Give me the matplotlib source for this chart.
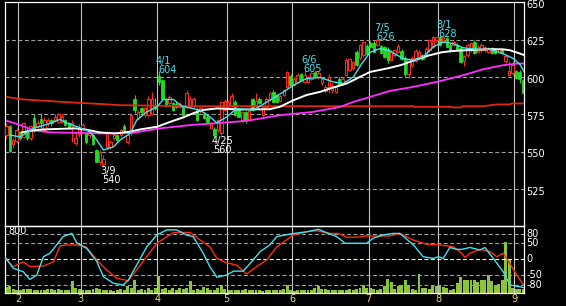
import matplotlib

matplotlib.use("Agg")

import matplotlib.pyplot as plt
import matplotlib.transforms as mtransforms
import numpy as np

plt.rcParams["font.family"] = "DejaVu Sans"

# ---- values (x = trading-day index, 0..149) ----
opens = [
    561, 567, 555, 557, 563, 560, 564, 559, 572.5, 567,
    572, 564.5, 569, 571, 571, 570, 570, 571, 569, 567,
    556, 562, 565.5, 562.5, 561, 561, 551, 543, 542, 553.5,
    553.5, 559, 561, 561, 567, 556.5, 562.5, 585.5, 572.5, 579,
    574.5, 574.5, 575.5, 581, 601, 598, 584.5, 582.5, 582.5, 582,
    580, 580, 580, 580, 580.5, 578, 577, 575.5, 573.5, 566,
    565.5, 564.5, 562.5, 578, 580, 581, 583.5, 578, 571, 576.5,
    572, 585, 581, 585.5, 574.5, 580, 585, 590, 588, 584,
    588, 593.5, 601, 595, 597, 602, 597, 597, 599, 603.5,
    600, 596, 590.5, 593.5, 591, 590, 599, 596, 601.5, 605,
    606, 617, 612.5, 614.5, 621, 623, 623, 621.5, 620.5, 620,
    619, 611.5, 614.5, 617, 617.5, 612.5, 602, 608, 611, 612.5,
    614.5, 614.5, 618, 620.3, 624.7, 627, 623.6, 626, 621.4, 621.5,
    621.4, 619.2, 610.5, 614.7, 618, 623.6, 617, 618, 618, 617,
    619.2, 618.5, 617, 618, 610.5, 601.4, 602.5, 603.7, 603.5, 598,
]
highs = [
    569, 568, 559, 566, 564, 570, 566, 568, 575, 571,
    576, 573, 572.5, 572, 575.5, 576, 576, 572, 570, 571,
    563, 568.5, 569.5, 563.5, 565, 562, 552, 551, 548, 564,
    558, 562.5, 562, 565.5, 568.5, 562.5, 576, 588, 578, 580,
    580, 587, 590, 586, 604, 599, 586, 588, 583.5, 583,
    583, 581, 591, 587, 586.5, 579, 580, 576.5, 574.5, 570,
    566.5, 572, 584, 585, 584.5, 589, 584.5, 579, 577.5, 577.5,
    578, 586, 589, 586.5, 581, 586.5, 590, 591, 588.5, 588,
    592, 604, 602, 600, 602.5, 603, 605, 601, 603.5, 604,
    604, 600, 595, 602, 596, 594, 600, 600, 613, 613,
    611, 618, 622, 624, 622, 624, 624, 626, 621.5, 621,
    620, 618, 619, 622, 618.5, 614, 613, 614, 618.5, 618,
    615.5, 620, 625.5, 627.5, 627, 628, 627.5, 627, 622.5, 624,
    622.5, 620, 615, 622.5, 623.5, 624.5, 621.5, 622.5, 621, 620,
    620, 619.5, 619.5, 619, 615, 610.4, 610.4, 605, 604.5, 599,
]
lows = [
    559, 550, 552.5, 556, 558, 559, 558, 558, 563, 565,
    566, 563, 567.5, 567.5, 570, 569, 569, 567, 565, 556.5,
    554.5, 560, 564, 555, 559, 554.5, 543, 541, 540, 552,
    552, 558, 557, 560, 563.5, 555.5, 561.5, 576, 571, 575,
    573.5, 573.5, 574.5, 578, 595, 585, 580, 581.5, 577, 579,
    579, 574, 579, 579, 579.5, 570.5, 576, 572, 569.5, 565,
    560, 563.5, 561.5, 577, 579, 580, 574, 573, 570, 569,
    571, 577.5, 580, 582, 573.5, 579, 584, 583, 583, 583,
    587, 592.5, 594, 594, 596, 597.5, 596, 596, 598, 600,
    599, 595, 589, 589, 589, 589, 594, 595, 600.5, 604,
    605, 607.5, 611.5, 613.5, 615, 619.5, 616.5, 620.5, 615.5, 613,
    609.5, 610.5, 613.5, 616, 611.5, 601, 599.5, 607, 610, 611.5,
    611.5, 613.5, 617, 619.5, 623.5, 621, 622.5, 620, 617, 620.5,
    617.5, 609.5, 607.5, 613.5, 617, 615.5, 616, 617, 617, 616,
    615.5, 615.5, 616, 615.5, 609.5, 600.5, 601.5, 598.5, 596, 589,
]
closes = [
    567, 550.5, 558, 564.5, 559, 569, 559, 567, 564.5, 569,
    569, 571, 571, 569, 573.5, 575, 574, 568, 565.7, 569.5,
    559, 566, 568, 556.5, 563.5, 555.5, 543.5, 550, 545, 563.5,
    556.5, 561, 558, 564.5, 564.5, 561, 574.5, 578, 576.5, 576.5,
    579, 585.5, 585, 579.5, 596.5, 585.5, 581, 586.5, 578, 580,
    582, 574.5, 589, 585.5, 585, 571, 579, 572.5, 570, 568.5,
    561, 571, 583.5, 584, 583.5, 587, 574.5, 573.5, 576.5, 571,
    577, 578, 584, 582.5, 580, 585.5, 589.5, 583.5, 583.5, 587,
    591, 603.5, 594.5, 599, 601.5, 598, 601.5, 600, 602.5, 600.5,
    603, 599, 593.5, 600, 594, 593, 594.5, 599, 611.5, 612,
    610, 608, 621.5, 623.5, 615.5, 620, 617, 624.5, 616, 613.5,
    611.5, 617, 618, 621, 612, 602, 612, 613, 617.5, 617,
    612, 619, 624.7, 627, 626.5, 621.5, 627, 620.3, 618, 623.5,
    618, 610.3, 613.8, 621.4, 622.5, 615.9, 620.3, 621.4, 620, 619,
    615.9, 616, 618.5, 616, 613.8, 603.7, 608, 599.2, 599, 589.5,
]
volume = [
    77, 86, 56, 43, 34, 47, 47, 47, 34, 43,
    34, 34, 47, 47, 43, 56, 34, 34, 43, 150,
    69, 56, 43, 34, 34, 56, 69, 56, 43, 34,
    34, 26, 43, 56, 43, 86, 64, 163, 34, 56,
    43, 69, 43, 69, 215, 56, 69, 43, 69, 43,
    69, 56, 69, 155, 43, 56, 34, 77, 69, 43,
    34, 69, 100, 56, 43, 34, 34, 34, 34, 56,
    34, 34, 34, 34, 26, 34, 34, 34, 43, 43,
    56, 100, 34, 26, 34, 43, 43, 38, 34, 69,
    86, 56, 56, 43, 43, 43, 34, 34, 43, 56,
    43, 56, 60, 107, 69, 64, 50, 43, 56, 86,
    185, 142, 56, 86, 99, 172, 99, 56, 34, 241,
    69, 69, 56, 86, 86, 86, 77, 69, 43, 56,
    129, 206, 172, 172, 163, 172, 142, 172, 163, 228,
    155, 99, 120, 172, 654, 443, 69, 56, 56, 50,
]

# moving averages (sampled points: day index, price)
ma_short_x = [1.1, 4.0, 7.8, 12.6, 15.5, 17.4, 21.3, 24.1, 26.1, 28.0, 30.9, 32.8,
              35.7, 37.6, 40.5, 43.4, 45.3, 48.2, 50.6, 55.9, 58.7, 60.7, 63.6, 66.4,
              71.2, 76.0, 79.9, 82.8, 86.6, 90.5, 94.3, 97.2, 100.1, 102.5, 104.9,
              107.8, 110.6, 114.5, 117.4, 120.2, 123.1, 126.0, 128.9, 131.8, 135.6,
              139.5, 143.3, 146.2, 148.1, 149.4]
ma_short_y = [561.2, 560, 565.7, 569, 571.7, 569.4, 566, 563.4, 557.9, 551.2, 553.4, 557.9,
              562.3, 571.2, 576.7, 580, 585, 585, 580.5, 577.9, 573.4, 569.4, 573.4, 579,
              577.9, 584.5, 590, 594.5, 599, 599.7, 596.7, 595.7, 600.1, 609, 616.5,
              619, 617.4, 612.3, 611.2, 613.4, 620.1, 623.4, 622.3, 619.5, 618.5,
              618.5, 615.5, 612.4, 608.5, 603.5]
ma_mid_x = [4.5, 6.8, 10.6, 19.8, 22.7, 27.0, 31.3, 35.7, 38.6, 43.5, 47.2, 51.0, 53.8,
            56.7, 60.8, 67.4, 76.0, 78.9, 82.8, 86.6, 90.5, 93.3, 98.2, 102.0, 104.9,
            110.2, 114.0, 117.8, 121.7, 125.5, 128.8, 133.7, 139.5, 143.2, 145.2, 147.3, 149.4]
ma_mid_y = [563, 564, 565, 565.7, 565, 563, 562.3, 563.5, 565, 566.8, 570, 573, 575.7,
            578, 579, 578.3, 578.5, 580.1, 584.5, 588, 590.1, 592.3, 595.7, 600.1, 603.4,
            605.9, 608.1, 611.4, 614.3, 616.5, 617.4, 618, 618.6, 618.5, 617.9, 616.3, 614.6]
ma_long_x = [0.2, 4.0, 7.8, 12.6, 21.3, 27.0, 36.5, 44.3, 53.0, 59.7, 69.3, 78.9, 88.5,
             96.2, 100.1, 104.9, 110.6, 116.4, 124.1, 131.8, 137.5, 143.3, 147.2, 149.4]
ma_long_y = [570.7, 567.9, 564.5, 563, 562.7, 562.3, 562.7, 565.7, 567.9, 569, 570.7,
             574.5, 576.7, 580, 583.4, 586.7, 590.7, 593, 596.7, 601.2, 605.2, 607.9, 609, 609]
ma_xlong_x = [0.2, 4.0, 12.6, 21.3, 27.9, 32.8, 53.0, 117.4, 117.6, 128.4, 128.6, 131.3,
              131.5, 137.5, 141.4, 145.2, 145.7, 149.4]
ma_xlong_y = [586.7, 585.2, 583.9, 582.7, 581.9, 581.2, 580.5, 580.5, 580.1, 580.1, 579.7,
              579.7, 580.5, 580.5, 581.7, 581.7, 582.3, 582.3]

# oscillator (lower panel)
osc_fast_x = [-0.4, 2.0, 4.9, 6.8, 8.8, 10.7, 12.6, 14.5, 16.4, 18.9, 20.3, 23.2, 26.1,
              28.0, 30.9, 33.7, 35.2, 37.6, 40.5, 43.4, 46.3, 49.1, 52.0, 53.9, 56.8,
              58.7, 60.7, 63.6, 65.5, 68.3, 70.3, 73.2, 76.0, 78.0, 81.8, 86.6, 90.0,
              92.4, 95.3, 97.7, 103.9, 105.8, 108.7, 111.6, 113.5, 117.4, 120.2, 123.1,
              124.6, 126.0, 127.9, 129.9, 131.3, 133.7, 136.6, 138.0, 140.4, 143.3,
              145.2, 149.1, 149.4]
osc_fast_y = [8, -28, -39, -63, -49, 8, 19, 45, 71, 81, 52, 34, -7,
              -54, -75, -80, -65, -18, 39, 76, 92, 92, 76, 71, 19,
              -23, -56, -49, -37, -37, -13, 24, 45, 71, 79, 86, 94,
              83, 71, 50, 50, 66, 76, 81, 81, 45, 8, 3,
              8, 3, 37, 31, 31, 37, 29, 37, 3, -39,
              -80, -88, -88]
osc_slow_x = [-0.4, 2.0, 4.9, 6.8, 10.7, 13.6, 15.5, 17.4, 20.3, 23.2, 26.1, 28.9, 31.8,
              35.2, 37.6, 40.5, 43.4, 48.2, 53.0, 55.9, 58.7, 60.7, 63.6, 66.4, 69.3,
              72.2, 75.1, 78.0, 82.8, 86.6, 89.5, 93.3, 95.7, 98.2, 101.0, 103.9, 110.6,
              113.5, 117.4, 121.2, 125.1, 128.9, 130.8, 132.3, 133.7, 136.6, 139.5,
              141.4, 143.3, 145.2, 147.2, 149.1, 149.4]
osc_slow_y = [3, -23, -8, -23, -21, -8, 42, 45, 45, 37, -2, -33, -59,
              -67, -33, 8, 50, 84, 84, 60, 39, 3, -11, -18, -46,
              -23, -2, 39, 76, 86, 89, 81, 81, 69, 69, 73, 73,
              81, 60, 47, 45, 39, 24, 6, 19, 31, 24,
              8, 19, -13, -49, -80, -82]

month_pos = [3.5, 21.5, 43.5, 63.5, 82.5, 104.5, 124.5, 146.5]
month_labels = ["2", "3", "4", "5", "6", "7", "8", "9"]
price_ticks = [650, 625, 600, 575, 550, 525]
osc_ticks = [80, 50, 0, -50, -80]

high_marks = [(44, 604, "4/1"), (86, 605, "6/6"), (107, 626, "7/5"), (125, 628, "8/1")]
low_marks = [(28, 540, "3/9"), (60, 560, "4/25")]

# ---- colours ----
UP = "#ff2a1a"
DOWN = "#22dd22"
CYAN = "#40e4ee"
MAGENTA = "#ff30ff"
LONGRED = "#e02810"
VOLC = "#8cc43c"
GRIDV = "#c4c4c4"
DASH = "#a0a0a0"
MONTHC = "#e6de82"
DASHES = (0, (3.6, 2.2))

W, H = 566, 306


def frac_box(x0, y0, x1, y1):
    return [x0 / W, 1 - y1 / H, (x1 - x0) / W, (y1 - y0) / H]


fig = plt.figure(figsize=(W / 100, H / 100), dpi=100, facecolor="black")
ax = fig.add_axes(frac_box(4.7, 2, 524.3, 226))
lo = fig.add_axes(frac_box(4.7, 226, 524.3, 293))
vax = lo.twinx()
vax.set_zorder(lo.get_zorder() - 1)
lo.patch.set_visible(False)
vax.axis("off")

xlim = (-0.46, 149.37)
for a in (ax, lo, vax):
    a.set_xlim(*xlim)
for a in (ax, lo):
    a.set_facecolor("black")
    for s in a.spines.values():
        s.set_color("white")
        s.set_linewidth(0.9)
    a.tick_params(axis="both", length=0, left=False, labelleft=False)
ax.set_xticks([])
ax.set_yticks([])
lo.set_yticks([])

ax.set_ylim(500.5, 650.1)
lo.set_ylim(-105.3, 104.1)
vax.set_ylim(0, 865)

# grid
for m in month_pos:
    ax.axvline(m, color=GRIDV, lw=0.8, zorder=1)
    lo.axvline(m, color=GRIDV, lw=0.8, zorder=1)
for p in price_ticks[1:]:
    ax.axhline(p, color=DASH, lw=0.8, ls=DASHES, zorder=1)
for v in osc_ticks:
    lo.axhline(v, color="white" if v == 0 else DASH, lw=0.8, ls=DASHES, zorder=1)

# candles
x = np.arange(len(opens))
o = np.array(opens, dtype=float)
c = np.array(closes, dtype=float)
hi = np.array(highs, dtype=float)
lw_ = np.array(lows, dtype=float)
up = c >= o
bottom = np.minimum(o, c)
height = np.maximum(np.abs(c - o), 0.5)
ax.vlines(x[up], lw_[up], hi[up], color=UP, lw=0.8, zorder=3)
ax.vlines(x[~up], lw_[~up], hi[~up], color=DOWN, lw=0.8, zorder=3)
ax.bar(x[up], height[up], bottom=bottom[up], width=0.7, facecolor="black",
       edgecolor=UP, linewidth=0.8, zorder=4)
ax.bar(x[~up], height[~up], bottom=bottom[~up], width=0.7, color=DOWN,
       edgecolor=DOWN, linewidth=0.6, zorder=4)

# moving averages
ax.plot(ma_xlong_x, ma_xlong_y, color=LONGRED, lw=1.3, zorder=5)
ax.plot(ma_long_x, ma_long_y, color=MAGENTA, lw=1.3, zorder=5)
ax.plot(ma_mid_x, ma_mid_y, color="white", lw=1.4, zorder=5)
ax.plot(ma_short_x, ma_short_y, color=CYAN, lw=1.0, zorder=6)

# high / low annotations
for i, p, d in high_marks:
    ax.text(i, p, str(p), color=CYAN, fontsize=7, ha="left", va="baseline",
            transform=mtransforms.offset_copy(ax.transData, fig=fig, x=-1, y=-2, units="dots"))
    ax.text(i, p, d, color=CYAN, fontsize=7, ha="left", va="baseline",
            transform=mtransforms.offset_copy(ax.transData, fig=fig, x=-3.3, y=7, units="dots"))
for i, p, d in low_marks:
    ax.text(i, p, d, color="white", fontsize=7, ha="left", va="baseline",
            transform=mtransforms.offset_copy(ax.transData, fig=fig, x=-3.3, y=-7.5, units="dots"))
    ax.text(i, p, str(p), color="white", fontsize=7, ha="left", va="baseline",
            transform=mtransforms.offset_copy(ax.transData, fig=fig, x=-1, y=-16.5, units="dots"))

# right-hand price scale
tr = mtransforms.blended_transform_factory(ax.transAxes, ax.transData)
for p in price_ticks:
    ax.text(1, p, str(p), color="white", fontsize=7, ha="left", va="center", clip_on=False,
            transform=mtransforms.offset_copy(tr, fig=fig, x=2.2, y=-2.5, units="dots"))

# lower panel: volume + oscillator
vax.bar(x, volume, width=0.85, color=VOLC, linewidth=0, zorder=1)
lo.plot(osc_slow_x, osc_slow_y, color="#ff2a10", lw=1.0, zorder=4)
lo.plot(osc_fast_x, osc_fast_y, color=CYAN, lw=1.0, zorder=5)
trv = mtransforms.blended_transform_factory(vax.transAxes, vax.transData)
vax.text(0.007, 800, "800", color="white", fontsize=7, ha="left", va="center", transform=trv)
trl = mtransforms.blended_transform_factory(lo.transAxes, lo.transData)
for v in osc_ticks:
    lo.text(1, v, str(v), color="white", fontsize=7, ha="left", va="center", clip_on=False,
            transform=mtransforms.offset_copy(trl, fig=fig, x=2.0, y=0, units="dots"))

lo.set_xticks(month_pos, labels=month_labels)
lo.tick_params(axis="x", length=0, pad=0.8, labelsize=7, labelcolor=MONTHC)

fig.savefig("out.png", dpi=100, facecolor="black")
plt.close(fig)
